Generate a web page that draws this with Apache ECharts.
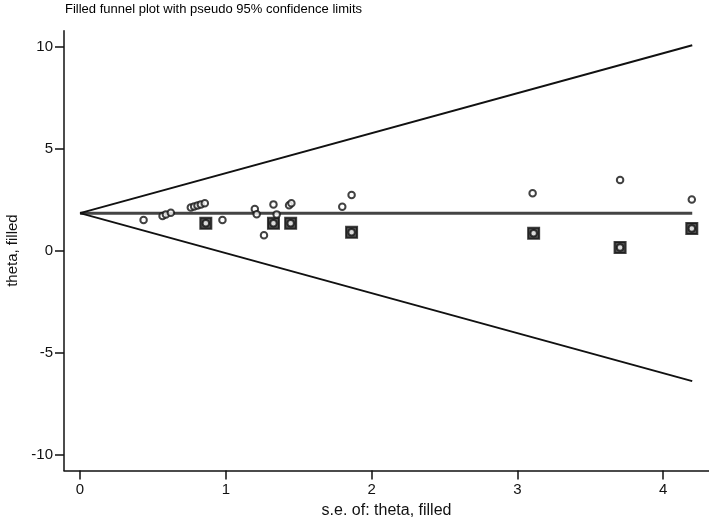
<!DOCTYPE html>
<html>
<head>
<meta charset="utf-8">
<script src="https://cdn.jsdelivr.net/npm/echarts@6/dist/echarts.min.js"></script>
<style>html,body{margin:0;padding:0;background:#fff;}#c{width:709px;height:519px;}</style>
</head>
<body>
<div id="c"></div>
<script>
// Observed studies: standard error and theta
var studySE    = [0.436,0.566,0.589,0.623,0.760,0.783,0.806,0.829,0.856,0.977,1.199,1.212,1.327,1.349,1.434,1.450,1.262,1.799,1.863,3.105,3.705,4.197];
var studyTheta = [1.52,1.72,1.80,1.88,2.14,2.19,2.24,2.29,2.34,1.52,2.06,1.81,2.29,1.80,2.25,2.34,0.78,2.17,2.75,2.83,3.48,2.53];
// Filled (imputed) studies
var filledSE    = [0.863,1.327,1.445,1.863,3.112,3.705,4.197];
var filledTheta = [1.36,1.36,1.36,0.92,0.87,0.18,1.11];
// Pseudo 95% confidence limits and pooled estimate
var limitSE    = [0, 4.2];
var upperLimit = [1.86, 10.09];
var lowerLimit = [1.86, -6.37];
var pooled     = [1.86, 1.86];
var xTicks = [0,1,2,3,4];
var yTicks = [-10,-5,0,5,10];

function pairs(a,b){return a.map(function(v,i){return [v,b[i]];});}
var allSE = studySE.concat(filledSE), allTheta = studyTheta.concat(filledTheta);
var FONT = '"Liberation Sans",Arial,sans-serif';

var chart = echarts.init(document.getElementById('c'), null, {renderer:'canvas'});
chart.setOption({
  animation:false,
  backgroundColor:'#fff',
  title:{text:'Filled funnel plot with pseudo 95% confidence limits', left:65, top:3, padding:0,
    textStyle:{fontFamily:FONT, fontSize:13, fontWeight:'normal', color:'#000'}},
  grid:{left:64, right:0, top:30.7, bottom:48.5, containLabel:false, outerBoundsMode:'none'},
  xAxis:{type:'value', min:-0.11, max:4.315,
    name:'s.e. of: theta, filled', nameLocation:'middle', nameGap:30,
    nameTextStyle:{fontFamily:FONT, fontSize:16, color:'#111'},
    axisLine:{show:true, onZero:false, lineStyle:{color:'#111', width:1.5}},
    axisTick:{show:true, customValues:xTicks, length:9, lineStyle:{color:'#111', width:1.5}},
    axisLabel:{customValues:xTicks, fontFamily:FONT, fontSize:15, color:'#111', margin:12},
    splitLine:{show:false}},
  yAxis:{type:'value', min:-10.75, max:10.8,
    name:'theta, filled', nameLocation:'middle', nameGap:44, nameRotate:90,
    nameTextStyle:{fontFamily:FONT, fontSize:15, color:'#111'},
    axisLine:{show:true, onZero:false, lineStyle:{color:'#111', width:1.5}},
    axisTick:{show:true, customValues:yTicks, length:9, lineStyle:{color:'#111', width:1.5}},
    axisLabel:{customValues:yTicks, fontFamily:FONT, fontSize:15, color:'#111', margin:11},
    splitLine:{show:false}},
  series:[
    {type:'line', data:pairs(limitSE, pooled), symbol:'none', lineStyle:{color:'#444', width:3}, z:2},
    {type:'line', data:pairs(limitSE, upperLimit), symbol:'none', lineStyle:{color:'#111', width:2}, z:2},
    {type:'line', data:pairs(limitSE, lowerLimit), symbol:'none', lineStyle:{color:'#111', width:2}, z:2},
    {type:'scatter', data:pairs(filledSE, filledTheta), symbol:'rect', symbolSize:11,
      itemStyle:{color:'#222', borderColor:'#111', borderWidth:2}, z:3},
    {type:'scatter', data:pairs(allSE, allTheta), symbol:'circle', symbolSize:6.5,
      itemStyle:{color:'#fff', borderColor:'#111', borderWidth:2}, z:4}
  ]
});
</script>
</body>
</html>
